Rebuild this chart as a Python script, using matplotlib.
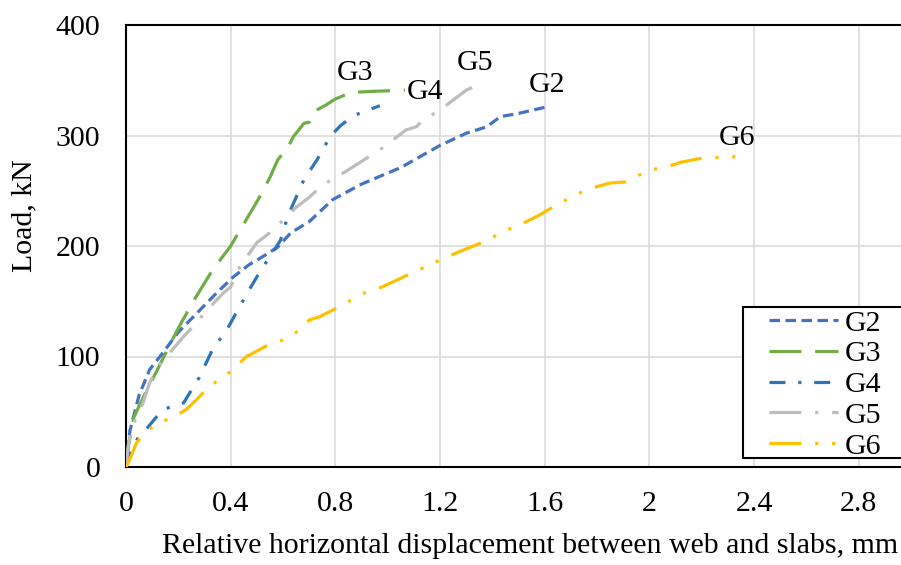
import numpy as np
from matplotlib import pyplot as plt
from matplotlib.patches import Rectangle
from matplotlib.ticker import FuncFormatter

plt.rcParams['font.family'] = ['Liberation Serif', 'DejaVu Serif']

# Data

g2_x = [0, 0.015, 0.05, 0.09, 0.13, 0.2, 0.27, 0.34, 0.41, 0.47, 0.52, 0.58, 0.63, 0.7, 0.79, 0.9,
        1.05, 1.2, 1.3, 1.38, 1.43, 1.5, 1.61]
g2_y = [0, 33, 65, 88, 100, 122, 139, 156, 172, 183, 190, 199, 212, 222, 242, 256,
        271, 291, 302, 308, 317, 320, 326]

g3_x = [0, 0.01, 0.03, 0.07, 0.12, 0.17, 0.21, 0.26, 0.33, 0.4, 0.45, 0.51, 0.55, 0.58, 0.62, 0.64,
        0.68, 0.7, 0.72, 0.76, 0.8, 0.86, 0.95, 1.066]
g3_y = [0, 20, 45, 65, 88, 112, 130, 151, 178, 200, 220, 244, 262, 278, 290, 299,
        311, 312, 322, 327, 333, 339, 340, 341]

g4_x = [0, 0.02, 0.05, 0.08, 0.14, 0.22, 0.28, 0.33, 0.385, 0.42, 0.47, 0.5, 0.54, 0.59, 0.62,
        0.68, 0.73, 0.78, 0.82, 0.87, 0.97]
g4_y = [0, 15, 28, 35, 52, 58, 81, 106, 124, 139, 160, 172, 187, 205, 228,
        260, 278, 299, 309, 318, 327]

g5_x = [0, 0.01, 0.03, 0.065, 0.09, 0.12, 0.155, 0.22, 0.26, 0.31, 0.37, 0.4, 0.435, 0.5, 0.55,
        0.59, 0.65, 0.7, 0.75, 0.83, 0.89, 0.97, 1.02, 1.07, 1.11, 1.135, 1.2, 1.25, 1.3, 1.365]
g5_y = [0, 22, 40, 58, 76, 90, 100, 118, 128, 142, 157, 163, 181, 203, 212,
        221, 235, 244, 255, 266, 275, 287, 296, 305, 308, 314, 323, 332, 341, 348]

g6_x = [0, 0.02, 0.04, 0.08, 0.13, 0.195, 0.23, 0.27, 0.31, 0.36, 0.41, 0.46, 0.485, 0.54, 0.6,
        0.665, 0.7, 0.74, 0.79, 0.845, 0.905, 0.98, 1.06, 1.17, 1.265, 1.38, 1.44, 1.505, 1.58,
        1.63, 1.7, 1.76, 1.85, 1.91, 1.96, 2.01, 2.07, 2.125, 2.19, 2.26, 2.35]
g6_y = [0, 10, 22, 33, 40, 47, 52, 61, 71, 80, 88, 100, 103, 110, 115,
        124, 133, 136, 142, 149, 157, 163, 172, 184, 194, 205, 213, 219, 228,
        235, 244, 251, 257, 258, 264, 269, 272, 276, 279, 280, 281]

names = ['G2', 'G3', 'G4', 'G5', 'G6']
label_pos = {'G2': (1.609, 346), 'G3': (0.875, 357), 'G4': (1.142, 339),
             'G5': (1.334, 366), 'G6': (2.334, 298)}

x_ticks = [0, 0.4, 0.8, 1.2, 1.6, 2.0, 2.4, 2.8]
y_ticks = [0, 100, 200, 300, 400]

FS = 21.5

# Figure

fig = plt.figure(figsize=(9.01, 5.65), dpi=100)
ax = fig.add_axes([126 / 901, 98 / 565, 785 / 901, 442 / 565])

series = [
	(g2_x, g2_y, '#4472C4', (0, (3.3, 1.7))),
	(g3_x, g3_y, '#70AD47', (0, (10, 4.3))),
	(g4_x, g4_y, '#2E75B6', (0, (5, 4, 1, 4))),
	(g5_x, g5_y, '#BDBDBD', (0, (10, 4.3, 1, 4.3))),
	(g6_x, g6_y, '#FFC000', (0, (10, 4.3, 1, 4.3, 1, 4.3))),
]

for (xs, ys, color, ls), name in zip(series, names):
	ax.plot(xs, ys, color=color, lw=2.3, ls=ls, label=name, zorder=3)
	ax.text(*label_pos[name], name, fontsize=FS, ha='center', va='center', zorder=4)

ax.set_xlim(0, 3.0)
ax.set_ylim(0, 400)
ax.set_xticks(x_ticks)
ax.set_yticks(y_ticks)
ax.xaxis.set_major_formatter(FuncFormatter(lambda v, p: f'{v:g}'))
ax.tick_params(length=0, labelsize=FS)
ax.tick_params(axis='y', pad=18.5)
ax.tick_params(axis='x', pad=17)

ax.grid(True, color='#D9D9D9', lw=1.1)
ax.set_axisbelow(True)
for s in ax.spines.values():
	s.set_color('black')
	s.set_linewidth(1.5)

ax.set_xlabel('Relative horizontal displacement between web and slabs, mm', fontsize=FS)
ax.set_ylabel('Load, kN', fontsize=FS)
ax.xaxis.set_label_coords(0.515, -0.15)
ax.yaxis.set_label_coords(-0.113, 0.568)

# Legend box (clipped at right edge like the original)
ax.add_patch(Rectangle((0.786, 0.0204), 0.3, 0.342, transform=ax.transAxes, fc='white',
                       ec='black', lw=1.5, zorder=5, clip_on=False))
ax.legend(loc='upper left', bbox_to_anchor=(0.819, 0.356), frameon=False, fontsize=FS,
          handlelength=2.33, handletextpad=0.2, borderpad=0, borderaxespad=0,
          labelspacing=0.13).set_zorder(6)

fig.savefig('out.png', dpi=100)
